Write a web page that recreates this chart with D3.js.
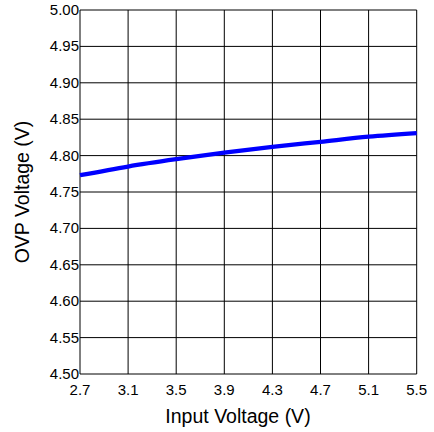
<!DOCTYPE html>
<html><head><meta charset="utf-8">
<script src="https://cdn.jsdelivr.net/npm/d3@7/dist/d3.min.js"></script>
<style>html,body{margin:0;padding:0;background:#fff;}svg{display:block;font-family:"Liberation Sans",Arial,sans-serif;}</style>
</head><body>
<svg id="c" width="434" height="432"></svg>
<script>
const inputVoltage = [2.7, 3.1, 3.5, 3.9, 4.3, 4.7, 5.1, 5.5];
const ovpVoltage = [4.773, 4.785, 4.795, 4.804, 4.812, 4.819, 4.826, 4.831];
const xTicks = [2.7, 3.1, 3.5, 3.9, 4.3, 4.7, 5.1, 5.5];
const yTicks = [4.50, 4.55, 4.60, 4.65, 4.70, 4.75, 4.80, 4.85, 4.90, 4.95, 5.00];
const xTitle = "Input Voltage (V)";
const yTitle = "OVP Voltage (V)";

const svg = d3.select("#c");
const L = 80, R = 416.7, T = 10, B = 374;
const x = d3.scaleLinear().domain([2.7, 5.5]).range([L, R]);
const y = d3.scaleLinear().domain([4.5, 5.0]).range([B, T]);

// grid
const g = svg.append("g");
g.selectAll("line.v").data(xTicks).join("line")
  .attr("x1", d => x(d)).attr("x2", d => x(d)).attr("y1", T).attr("y2", B)
  .attr("stroke", "#000").attr("stroke-width", 1);
g.selectAll("line.h").data(yTicks).join("line")
  .attr("y1", d => y(d)).attr("y2", d => y(d)).attr("x1", L).attr("x2", R)
  .attr("stroke", "#000").attr("stroke-width", 1);

// tick labels
svg.append("g").selectAll("text").data(yTicks).join("text")
  .attr("x", 79).attr("y", d => y(d) + 5)
  .attr("text-anchor", "end").attr("font-size", 15).attr("fill", "#000")
  .text(d => d.toFixed(2));
svg.append("g").selectAll("text").data(xTicks).join("text")
  .attr("x", d => x(d)).attr("y", 394.5)
  .attr("text-anchor", "middle").attr("font-size", 15).attr("fill", "#000")
  .text(d => d.toFixed(1));

// titles
svg.append("text").attr("x", 238).attr("y", 423)
  .attr("text-anchor", "middle").attr("font-size", 19.5).text(xTitle);
svg.append("text").attr("transform", "translate(29,192) rotate(-90)")
  .attr("text-anchor", "middle").attr("font-size", 19.5).text(yTitle);

// curve
const data = inputVoltage.map((v, i) => [v, ovpVoltage[i]]);
svg.append("path").datum(data)
  .attr("d", d3.line().x(d => x(d[0])).y(d => y(d[1])).curve(d3.curveMonotoneX))
  .attr("fill", "none").attr("stroke", "#0000ff").attr("stroke-width", 4.3);
</script>
</body></html>
